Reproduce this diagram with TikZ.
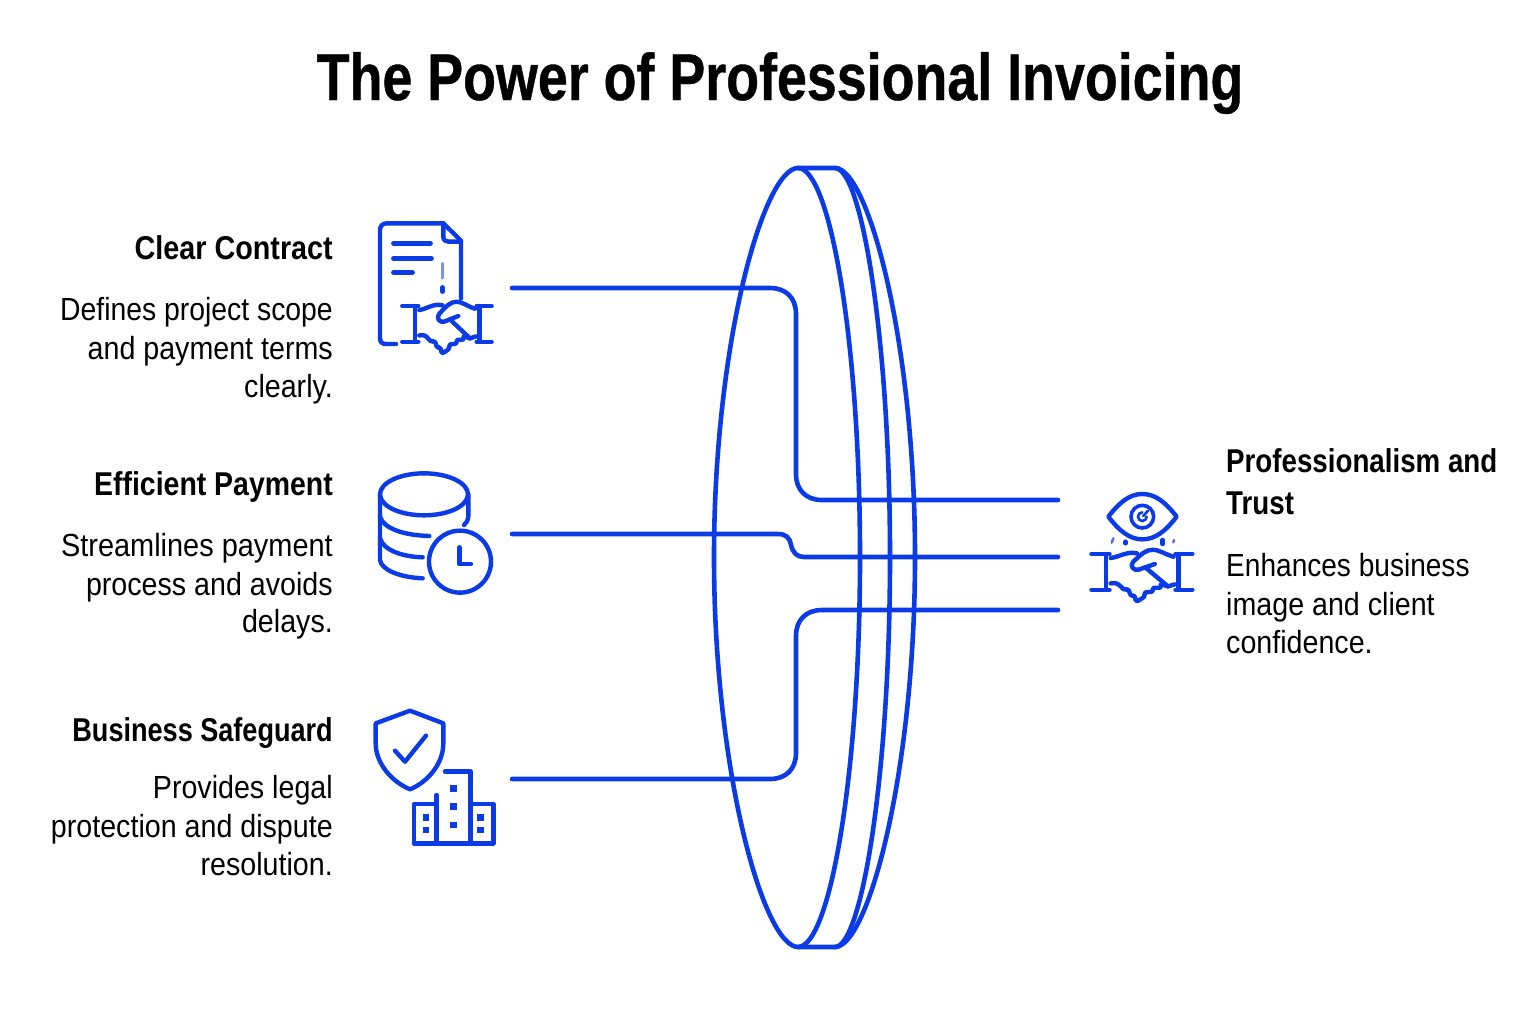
\documentclass[tikz,border=0pt]{standalone}
\usepackage{fontspec}
\setmainfont{Liberation Sans}
\newfontfamily\bodyf[FakeStretch=0.895]{Liberation Sans}
\newfontfamily\headf[FakeStretch=0.84]{Liberation Sans Bold}
\newfontfamily\titlef[FakeStretch=0.815,FakeBold=0.6]{Liberation Sans Bold}
\definecolor{ibl}{HTML}{0B3BE6}
\newcommand{\sx}[2]{\scalebox{#1}[1]{#2}}
\tikzset{
  wire/.style={draw=ibl,line width=4.6pt,line cap=round,line join=round},
  thin wire/.style={draw=ibl,line width=4.4pt,line cap=round,line join=round},
  iconscope/.style={x=0.3333pt,y=-0.3333pt},
  hd/.style={font=\headf\fontsize{33}{39}\selectfont,text=black,inner sep=0pt,anchor=base east},
  bd/.style={font=\bodyf\fontsize{32}{38.7}\selectfont,text=black,inner sep=0pt,anchor=base east},
  hdr/.style={font=\headf\fontsize{33}{43}\selectfont,text=black,inner sep=0pt,anchor=base west},
  bdr/.style={font=\bodyf\fontsize{32}{38.7}\selectfont,text=black,inner sep=0pt,anchor=base west},
}
\newcommand{\shake}[3]{%
\begin{scope}[shift={(#1,#2)},x=#3*0.3333pt,y=-0.3333pt]
 \path[thin wire] (-135,-53)--(-87,-53) (-97,-53)--(-97,54) (-135,54)--(-87,54);
 \path[thin wire] (88,-53)--(133,-53) (96,-53)--(96,54) (88,54)--(133,54);
 \path[thin wire] (-84,-41) .. controls (-60,-45) and (-40,-62) .. (-14,-55);
 \path[thin wire] (83,-45) .. controls (60,-52) and (45,-66) .. (28,-66) .. controls (8,-66) and (-5,-50) .. (-24,-30) .. controls (-34,-18) and (-24,-2) .. (-10,-6) -- (33,-23);
 \path[thin wire] (8,-13) -- (68,44);
 \path[thin wire] (68,44) -- (86,38);
 \path[thin wire,rounded corners=2.5pt] (-84,35) -- (-67,34) -- (-47,56) -- (-38,50) -- (-30,74) -- (-20,70) -- (-17,91) -- (8,74) -- (4,62) -- (30,60) -- (26,48) -- (52,48) -- (46,36) -- (68,44);
\end{scope}}

\begin{document}
\begin{tikzpicture}[x=1pt,y=-1pt]
\useasboundingbox (0,0) rectangle (1540,1021);
\fill[white] (0,0) rectangle (1540,1021);

\node[font=\titlef\fontsize{66}{70}\selectfont,inner sep=0pt,anchor=base] (title) at (780,100) {The Power of Professional Invoicing};

% left texts
\node[hd] (h1) at (333,259) {\sx{1.037}{Clear Contract}};
\node[hd] (h2) at (333,495) {\sx{1.026}{Efficient Payment}};
\node[hd] (h3) at (333,741) {\sx{0.977}{Business Safeguard}};
\node[bd] (b1a) at (333,320) {\sx{0.99}{Defines project scope}};
\node[bd] (b1b) at (333,359) {and payment terms};
\node[bd] (b1c) at (333,397) {clearly.};
\node[bd] (b2a) at (333,556) {\sx{1.01}{Streamlines payment}};
\node[bd] (b2b) at (333,595) {process and avoids};
\node[bd] (b2c) at (333,632) {delays.};
\node[bd] (b3a) at (333,798) {Provides legal};
\node[bd] (b3b) at (333,837) {protection and dispute};
\node[bd] (b3c) at (333,875) {resolution.};
% right texts
\node[hdr] (hra) at (1226,472) {Professionalism and};
\node[hdr] (hrb) at (1226,514) {Trust};
\node[bdr] (bra) at (1226,576) {\sx{0.98}{Enhances business}};
\node[bdr] (brb) at (1226,615) {image and client};
\node[bdr] (brc) at (1226,653) {confidence.};

% disc
\path[wire] (798,168) .. controls (764,168) and (714,342) .. (714,557) .. controls (714,772) and (764,947) .. (798,947) .. controls (830,947) and (860,772) .. (860,557) .. controls (860,342) and (830,168) .. (798,168) -- cycle;
\path[wire] (798,168) -- (835,168) .. controls (862,168) and (890,342) .. (890,557) .. controls (890,772) and (862,947) .. (835,947) -- (798,947);
\path[wire] (835,168) .. controls (868,168) and (915,342) .. (915,557) .. controls (915,772) and (868,947) .. (835,947);

% connectors
\coordinate (s1) at (512,288); \coordinate (e1) at (1058,500);
\coordinate (s2) at (512,534); \coordinate (e2) at (1058,557);
\coordinate (s3) at (512,779); \coordinate (e3) at (1058,610);
\path[wire] (s1) -- (770,288) .. controls (786,288) and (796,298) .. (796,314) -- (796,474) .. controls (796,490) and (806,500) .. (822,500) -- (e1);
\path[wire] (s2) -- (778,534) .. controls (786,534) and (790,538) .. (791,545) .. controls (793,553) and (797,557) .. (804,557) -- (e2);
\path[wire] (s3) -- (770,779) .. controls (786,779) and (796,769) .. (796,753) -- (796,636) .. controls (796,620) and (806,610) .. (822,610) -- (e3);

% icon 1: contract
\begin{scope}[shift={(360,210)},iconscope]
 \path[thin wire] (108,402) -- (78,402) .. controls (66,402) and (60,396) .. (60,385) -- (60,60) .. controls (60,48) and (68,40) .. (80,40) -- (250,40) -- (303,92) -- (303,265);
 \path[thin wire] (250,40) -- (250,80) .. controls (250,90) and (256,95) .. (265,95) -- (303,95);
 \path[thin wire] (100,100) -- (212,100) (100,145) -- (215,145) (100,188) -- (158,188);
 \path[draw=ibl!55,line width=2.5pt,line cap=round] (247,160) -- (247,205);
 \path[thin wire] (247,232) -- (247,245);
\end{scope}
\shake{447.3}{323.7}{1}

% icon 2: database with clock
\begin{scope}[shift={(360,460)},iconscope]
 \path[thin wire] (192,103) ellipse[x radius=132,y radius=63];
 \path[thin wire] (60,103) -- (60,300) .. controls (64,330) and (120,352) .. (188,355);
 \path[thin wire] (60,170) .. controls (70,205) and (130,226) .. (208,228);
 \path[thin wire] (60,235) .. controls (70,270) and (125,290) .. (188,292);
 \path[thin wire] (325,103) -- (325,170) .. controls (325,180) and (320,188) .. (312,195);
 \path[thin wire] (300,305) circle[radius=93];
 \path[thin wire] (298,262) -- (298,312) -- (333,312);
\end{scope}

% icon 3: shield and buildings
\begin{scope}[shift={(360,700)},iconscope]
 \path[thin wire] (150,32) -- (250,70) -- (250,130) .. controls (250,190) and (205,245) .. (150,268) .. controls (95,245) and (47,190) .. (47,130) -- (47,70) -- cycle;
 \path[thin wire] (105,152) -- (135,185) -- (198,107);
 \path[thin wire] (255,215) -- (332,215) -- (332,430);
 \path[thin wire] (230,285) -- (230,430);
 \path[thin wire] (230,312) -- (162,312) -- (162,430) -- (400,430) -- (400,312) -- (332,312);
 \foreach \wx/\wy in {280/265,280/320,280/375,198/352,198/390,362/352,362/390}
   \fill[ibl] (\wx-10,\wy-10) rectangle (\wx+10,\wy+10);
\end{scope}

% icon 4: eye and handshake
\begin{scope}[shift={(1080,480)},iconscope]
 \path[thin wire] (85,110) .. controls (120,65) and (150,42) .. (187,42) .. controls (225,42) and (255,65) .. (290,110) .. controls (255,155) and (225,178) .. (187,178) .. controls (150,178) and (120,155) .. (85,110) -- cycle;
 \path[draw=ibl,line width=3.6pt] (187,110) circle[radius=34];
 \path[draw=ibl,line width=2.6pt,line cap=round] (204,92) -- (190,108) (200,110) arc[start angle=0,end angle=270,radius=13];
 \path[thin wire] (137,185) -- (137,190) (248,180) -- (248,192);
 \path[draw=ibl!70,line width=2.5pt,line cap=round] (100,175) -- (95,188) (282,180) -- (280,187);
\end{scope}
\shake{1142.3}{571.7}{1.13}
\end{tikzpicture}
\end{document}
